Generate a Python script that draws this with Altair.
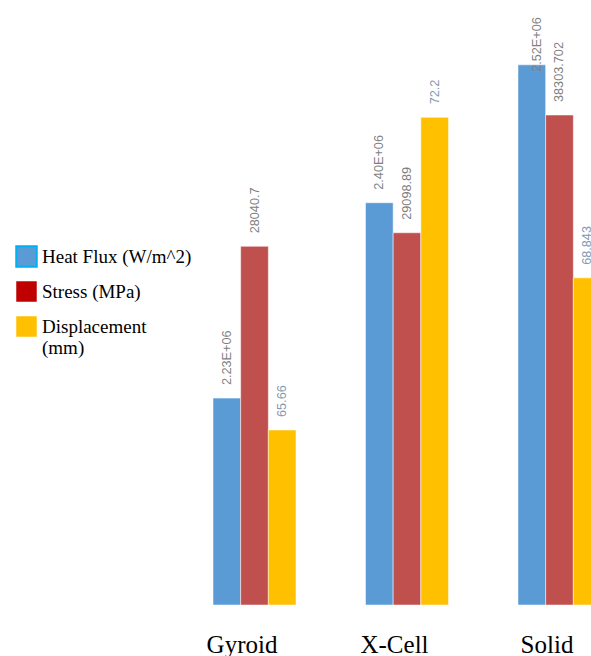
import altair as alt
import pandas as pd

groups = ["Gyroid", "X-Cell", "Solid"]
heat_flux = [2.23e6, 2.40e6, 2.52e6]
stress = [28040.7, 29098.89, 38303.702]
displacement = [65.66, 72.2, 68.843]
series = ["Heat Flux (W/m^2)", "Stress (MPa)", "Displacement (mm)"]
colors = ["#5b9bd5", "#c0504d", "#ffc000"]
legend_fills = ["#5b9bd5", "#c00000", "#ffc000"]
label_colors = ["#7f7f7f", "#7f7f7f", "#8497b0"]
# each series is drawn on its own value axis (hidden), as in the original
y_domains = [[2.05e6, 2.5764e6], [0, 47295], [62.0, 74.654]]

values = [heat_flux, stress, displacement]
label_exprs = [
    "format(datum.value / 1e6, '.2f') + 'E+06'",
    "toString(datum.value)",
    "toString(datum.value)",
]

SERIF = "Liberation Serif, Times New Roman, serif"

x_enc = alt.X(
    "group:N",
    sort=groups,
    scale=alt.Scale(domain=groups, range=[213, 601], paddingInner=0.4557, paddingOuter=0),
    axis=alt.Axis(
        title=None, labelAngle=0, domain=False, ticks=False, grid=False,
        labelFont=SERIF, labelFontSize=25, labelColor="black",
        labelPadding=27, labelOffset=-12.5,
    ),
)
xo_enc = alt.XOffset(
    "series:N", sort=series,
    scale=alt.Scale(domain=series, paddingInner=0, paddingOuter=0),
)
color_enc = alt.Color("series:N", scale=alt.Scale(domain=series, range=colors), legend=None)

legend = alt.Legend(
    title=None, orient="none", legendX=15, legendY=245,
    symbolType="square", symbolSize=420, symbolStrokeWidth=2, symbolOpacity=1,
    symbolStrokeColor=alt.ExprRef("datum.value === 'Heat Flux (W/m^2)' ? '#00b0f0' : 'transparent'"),
    labelFont=SERIF, labelFontSize=19, labelColor="black",
    labelOffset=4, rowPadding=6, labelLimit=300,
    labelExpr="datum.label == 'Displacement (mm)' ? ['Displacement', '(mm)'] : datum.label",
)

layers = []
for i, s in enumerate(series):
    df = pd.DataFrame({"group": groups, "series": s, "value": values[i]})
    base = alt.Chart(df).transform_calculate(label=label_exprs[i])
    yscale = alt.Scale(domain=y_domains[i], nice=False, zero=False)
    y_enc = alt.Y("value:Q", scale=yscale, axis=None)
    bars = base.mark_bar(clip=True, stroke="white", strokeWidth=0.5).encode(
        x=x_enc, xOffset=xo_enc, y=y_enc, y2=alt.datum(y_domains[i][0]), color=color_enc,
    )
    txt_style = dict(angle=270, align="left", baseline="middle", font="Liberation Sans",
                     fontSize=12.7, color=label_colors[i])
    if i == 0:
        t1 = base.transform_filter("datum.value < 2.5e6").mark_text(dx=13, **txt_style).encode(
            x=x_enc, xOffset=xo_enc, y=y_enc, text="label:N")
        t2 = base.transform_filter("datum.value >= 2.5e6").mark_text(dx=-7, dy=5, **txt_style).encode(
            x=x_enc, xOffset=xo_enc, y=y_enc, text="label:N")
        layers.append(alt.layer(bars, t1, t2))
    else:
        t = base.mark_text(dx=13, clip=True, **txt_style).encode(
            x=x_enc, xOffset=xo_enc, y=y_enc, text="label:N")
        layers.append(alt.layer(bars, t))

# legend-only layer (invisible marks) so legend squares can use their own colours
leg_df = pd.DataFrame({"series": series})
legend_layer = alt.Chart(leg_df).mark_square(filled=True, size=0, opacity=1).encode(
    color=alt.Color("series:N", scale=alt.Scale(domain=series, range=legend_fills), legend=legend),
)
layers.append(legend_layer)

chart = alt.layer(*layers).resolve_scale(y="independent", color="independent").properties(
    width=591, height=605,
    padding={"left": 0, "top": 0, "right": 0, "bottom": 51},
    autosize=alt.AutoSizeParams(type="none"),
    background="white",
).configure_view(stroke=None)

chart.save("out.html", embed_options={"renderer": "svg", "actions": False})
